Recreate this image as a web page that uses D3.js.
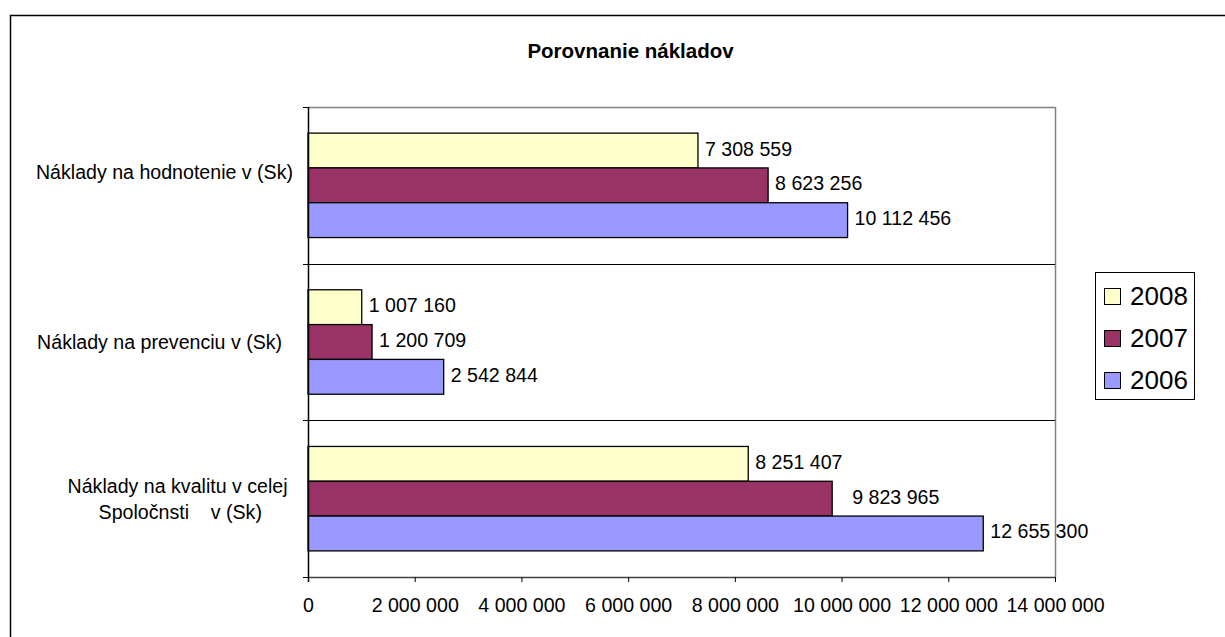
<!DOCTYPE html>
<html>
<head>
<meta charset="utf-8">
<script src="https://cdn.jsdelivr.net/npm/d3@7/dist/d3.min.js"></script>
<style>
  html, body { margin: 0; padding: 0; background: #fff; }
  svg { display: block; font-family: "Liberation Sans", Arial, sans-serif; }
  text { white-space: pre; }
</style>
</head>
<body>
<svg id="chart" width="1225" height="637"></svg>
<script>
// ---- data ----
const title = "Porovnanie nákladov";
const categories = ["hodnotenie", "prevenciu", "kvalitu"];
const categoryLines = [
  ["Náklady na hodnotenie v (Sk)", ""],
  ["Náklady na prevenciu v (Sk)  "],
  ["Náklady na kvalitu v celej ", "Spoločnsti    v (Sk)"]
];
const seriesNames = ["2008", "2007", "2006"];
const values2008 = [7308559, 1007160, 8251407];
const values2007 = [8623256, 1200709, 9823965];
const values2006 = [10112456, 2542844, 12655300];
const xTicks = [0, 2000000, 4000000, 6000000, 8000000, 10000000, 12000000, 14000000];
const seriesColors = ["#FFFFCC", "#993366", "#9999FF"];

// ---- layout ----
const plot = { left: 308, right: 1055, top: 107, bottom: 577 };
const fontSize = 19.6;
const gapWidth = 1.5;
const extraLabelGap = { "2007|kvalitu": 13 };

const seriesValues = [values2008, values2007, values2006];
const rows = [];
categories.forEach((c, ci) => {
  seriesNames.forEach((s, si) => {
    rows.push({ cat: c, series: s, si, value: seriesValues[si][ci] });
  });
});

const svg = d3.select("#chart");
const fmt = d3.formatLocale({ decimal: ",", thousands: " ", grouping: [3], currency: ["", ""] }).format(",d");

// outer chart border (extends off-canvas right/bottom)
svg.append("rect").attr("x", 10.5).attr("y", 15.5).attr("width", 1400).attr("height", 800)
  .attr("fill", "#fff").attr("stroke", "#000").attr("stroke-width", 1.5);

const x = d3.scaleLinear().domain([0, 14000000]).range([plot.left, plot.right]);
const y = d3.scaleBand().domain(categories).range([plot.top, plot.bottom]).paddingInner(0).paddingOuter(0);
const bw = y.bandwidth();
const barH = bw / (seriesNames.length + gapWidth);
const yInner = d3.scaleBand().domain(seriesNames)
  .range([barH * gapWidth / 2, bw - barH * gapWidth / 2]).padding(0);
const color = d3.scaleOrdinal().domain(seriesNames).range(seriesColors);

// plot area border (top & right gray)
svg.append("line").attr("x1", plot.left).attr("x2", plot.right).attr("y1", plot.top + 0.5).attr("y2", plot.top + 0.5)
  .attr("stroke", "#808080").attr("stroke-width", 1.5);
svg.append("line").attr("x1", plot.right + 0.5).attr("x2", plot.right + 0.5).attr("y1", plot.top).attr("y2", plot.bottom)
  .attr("stroke", "#808080").attr("stroke-width", 1.5);

// horizontal gridlines at category boundaries
const boundaries = categories.slice(1).map(c => y(c));
svg.selectAll("line.grid").data(boundaries).join("line").attr("class", "grid")
  .attr("x1", plot.left).attr("x2", plot.right)
  .attr("y1", d => Math.round(d) + 0.5).attr("y2", d => Math.round(d) + 0.5)
  .attr("stroke", "#000").attr("stroke-width", 1);

// bars
svg.selectAll("rect.bar").data(rows).join("rect").attr("class", "bar")
  .attr("x", x(0))
  .attr("y", d => y(d.cat) + yInner(d.series))
  .attr("width", d => x(d.value) - x(0))
  .attr("height", yInner.bandwidth())
  .attr("fill", d => color(d.series))
  .attr("stroke", "#000").attr("stroke-width", 1.3);

// value labels
svg.selectAll("text.val").data(rows).join("text").attr("class", "val")
  .attr("x", d => x(d.value) + 7 + (extraLabelGap[d.series + "|" + d.cat] || 0))
  .attr("y", d => y(d.cat) + yInner(d.series) + yInner.bandwidth() / 2 + 5)
  .attr("font-size", fontSize).attr("fill", "#000")
  .text(d => fmt(d.value));

// x axis
const xAxis = d3.axisBottom(x).tickValues(xTicks).tickFormat(fmt).tickSizeInner(5).tickSizeOuter(0).tickPadding(16);
const gx = svg.append("g").attr("transform", `translate(0,${plot.bottom})`).call(xAxis);
gx.select(".domain").attr("stroke", "#404040").attr("stroke-width", 1.5);
gx.selectAll(".tick line").attr("stroke", "#000");
gx.selectAll(".tick text").attr("font-size", fontSize).attr("font-family", "Liberation Sans, Arial, sans-serif").attr("fill", "#000");

// y axis line + ticks at category boundaries
const yTickPos = categories.map(c => y(c)).concat([plot.bottom]);
svg.append("line").attr("x1", plot.left + 0.5).attr("x2", plot.left + 0.5).attr("y1", plot.top).attr("y2", plot.bottom + 5)
  .attr("stroke", "#000").attr("stroke-width", 1.5);
svg.selectAll("line.ytick").data(yTickPos).join("line").attr("class", "ytick")
  .attr("x1", plot.left - 5).attr("x2", plot.left)
  .attr("y1", d => Math.round(d) + 0.5).attr("y2", d => Math.round(d) + 0.5)
  .attr("stroke", "#000").attr("stroke-width", 1);

// category labels (multi-line, lines centered within block, block right-aligned)
const labelRight = 293;
const lineGap = 26;
categories.forEach((c, ci) => {
  const lines = categoryLines[ci];
  const g = svg.append("g");
  const center = y(c) + bw / 2;
  const texts = g.selectAll("text").data(lines).join("text")
    .attr("font-size", fontSize).attr("fill", "#000")
    .attr("y", (d, i) => center - (lines.length - 1) * lineGap / 2 + i * lineGap + 7)
    .text(d => d);
  let maxW = 0;
  texts.each(function () { maxW = Math.max(maxW, this.getComputedTextLength()); });
  texts.attr("text-anchor", "middle").attr("x", labelRight - maxW / 2);
});

// title
svg.append("text").attr("x", 630.5).attr("y", 58).attr("text-anchor", "middle")
  .attr("font-size", 20.5).attr("font-weight", "bold").attr("fill", "#000").text(title);

// legend
const legend = svg.append("g");
legend.append("rect").attr("x", 1095.5).attr("y", 272.5).attr("width", 99).attr("height", 127)
  .attr("fill", "#fff").attr("stroke", "#000").attr("stroke-width", 1);
const legItems = legend.selectAll("g.item").data(seriesNames).join("g").attr("class", "item")
  .attr("transform", (d, i) => `translate(1104, ${288 + i * 42})`);
legItems.append("rect").attr("x", 0.5).attr("y", 0.5).attr("width", 16).attr("height", 16)
  .attr("fill", d => color(d)).attr("stroke", "#000").attr("stroke-width", 1);
legItems.append("text").attr("x", 26).attr("y", 16.5).attr("font-size", 26).attr("fill", "#000").text(d => d);
</script>
</body>
</html>
